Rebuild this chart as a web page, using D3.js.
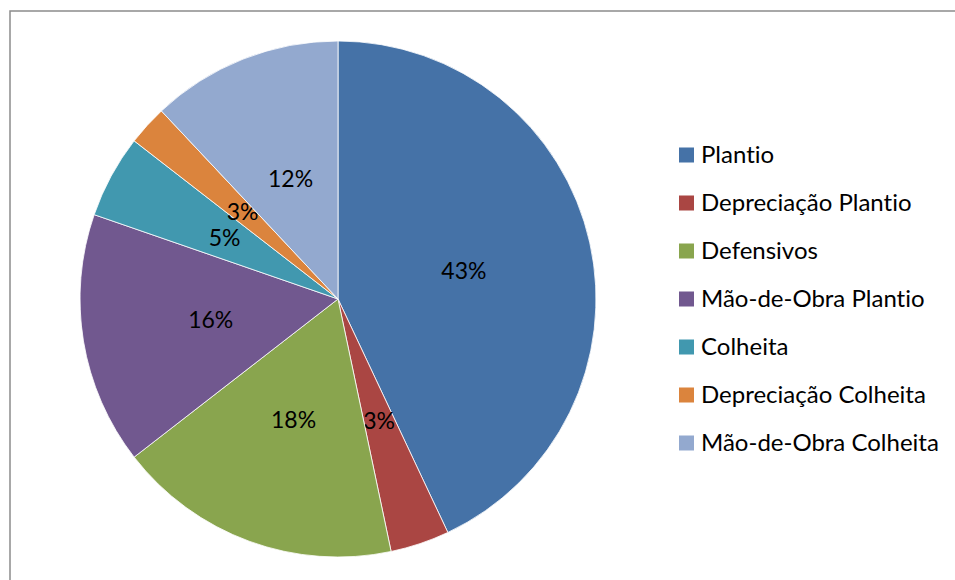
<!DOCTYPE html>
<html>
<head>
<meta charset="utf-8">
<script src="https://cdn.jsdelivr.net/npm/d3@7"></script>
<style>
  body { margin: 0; background: #fff; }
  text { font-family: Lato, "Open Sans", sans-serif; font-variant-ligatures: none; font-feature-settings: "liga" 0; }
</style>
</head>
<body>
<svg id="chart"></svg>
<script>
// Données
const categories = ["Plantio", "Depreciação Plantio", "Defensivos", "Mão-de-Obra Plantio", "Colheita", "Depreciação Colheita", "Mão-de-Obra Colheita"];
const values = [43.0, 3.7, 17.8, 15.8, 5.2, 2.5, 12.0];
const labels = ["43%", "3%", "18%", "16%", "5%", "3%", "12%"];
const colors = ["#4572A7", "#AA4643", "#89A54E", "#71588F", "#4198AF", "#DB843D", "#93A9CF"];

const width = 955, height = 580;
const cx = 338, cy = 299, radius = 258;

const svg = d3.select('#chart')
    .attr('width', width)
    .attr('height', height);

// cadre
svg.append('rect')
    .attr('x', 10).attr('y', 11)
    .attr('width', 960).attr('height', 600)
    .attr('fill', 'none')
    .attr('stroke', '#8c8c8c')
    .attr('stroke-width', 1.5);

const data = categories.map((c, i) => ({name: c, value: values[i], label: labels[i], color: colors[i]}));

const pie = d3.pie().sort(null).value(d => d.value);
const arc = d3.arc().innerRadius(0).outerRadius(radius);

const g = svg.append('g').attr('transform', `translate(${cx},${cy})`);

const slices = g.selectAll('.slice')
    .data(pie(data))
    .enter()
    .append('g')
    .attr('class', 'slice');

slices.append('path')
    .attr('d', arc)
    .attr('fill', d => d.data.color)
    .attr('stroke', '#fff')
    .attr('stroke-width', 0.8);

slices.append('text')
    .attr('transform', d => `translate(${arc.centroid(d)})`)
    .attr('text-anchor', 'middle')
    .attr('dy', '0.35em')
    .attr('font-size', 23)
    .attr('fill', '#000')
    .text(d => d.data.label);

// légende
const legendY = d3.scalePoint().domain(categories).range([155, 443]);

const legend = svg.append('g');
const items = legend.selectAll('.item')
    .data(data)
    .enter()
    .append('g')
    .attr('class', 'item')
    .attr('transform', d => `translate(679,${legendY(d.name)})`);

items.append('rect')
    .attr('x', 0).attr('y', -7.5)
    .attr('width', 15).attr('height', 15)
    .attr('fill', d => d.color);

items.append('text')
    .attr('x', 22)
    .attr('dy', '0.35em')
    .attr('font-size', 24)
    .attr('fill', '#000')
    .text(d => d.name);
</script>
</body>
</html>
